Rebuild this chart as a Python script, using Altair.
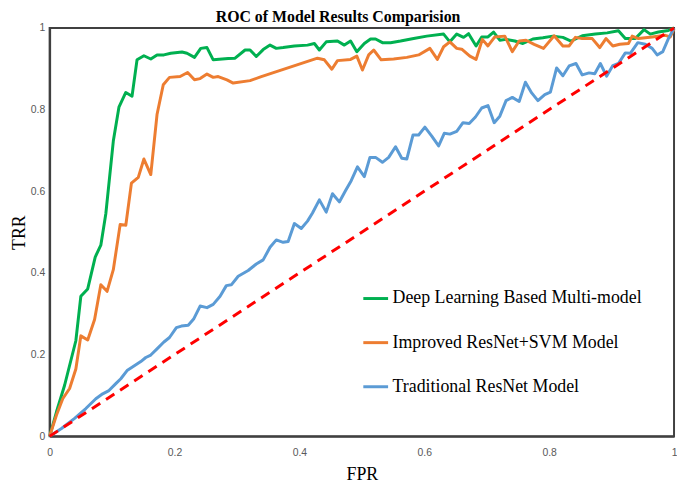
import altair as alt
import pandas as pd

# ---- data ----
series_names = ["Deep Learning Based Multi-model", "Improved ResNet+SVM Model", "Traditional ResNet Model"]
series_colors = ["#00B050", "#ED7D31", "#5B9BD5"]

g_fpr = [0, .011, .024, .042, .050, .061, .073, .082, .090, .102,
         .111, .122, .132, .140, .151, .162, .172, .183, .194, .212,
         .220, .232, .242, .252, .262, .286, .297, .313, .321, .331,
         .342, .353, .363, .374, .392, .413, .424, .432, .443, .461,
         .472, .482, .492, .504, .514, .522, .533, .546, .562, .583,
         .604, .631, .641, .652, .663, .671, .683, .692, .702, .711,
         .721, .731, .745, .758, .774, .790, .806, .822, .835, .853,
         .874, .893, .911, .922, .938, .952, .962, .975, .991, 1.0]
g_trr = [0, .060, .125, .234, .343, .361, .439, .468, .545, .723,
         .806, .842, .833, .922, .932, .924, .934, .934, .938, .941,
         .938, .928, .950, .952, .922, .925, .926, .946, .946, .930,
         .947, .958, .950, .952, .956, .958, .962, .946, .966, .968,
         .958, .968, .942, .962, .973, .973, .964, .964, .968, .974,
         .980, .985, .966, .985, .977, .986, .956, .978, .978, .990,
         .970, .972, .968, .962, .973, .976, .980, .977, .968, .981,
         .985, .988, .993, .974, .974, .996, .985, .990, .994, 1.0]

o_fpr = [0, .011, .021, .032, .042, .050, .061, .072, .082, .092,
         .102, .113, .122, .131, .142, .151, .162, .172, .182, .192,
         .209, .221, .232, .241, .252, .262, .270, .284, .294, .321,
         .339, .429, .440, .452, .461, .482, .492, .501, .511, .519,
         .531, .551, .572, .591, .609, .621, .631, .641, .652, .660,
         .673, .683, .693, .702, .713, .729, .741, .752, .763, .776,
         .791, .808, .822, .832, .842, .853, .869, .881, .891, .902,
         .913, .927, .933, .943, .965, .986, .994, 1.0]
o_trr = [0, .052, .092, .117, .165, .246, .236, .286, .371, .355,
         .408, .519, .517, .620, .634, .679, .641, .788, .861, .879,
         .881, .891, .873, .876, .887, .879, .881, .873, .865, .871,
         .881, .926, .922, .899, .920, .923, .931, .897, .934, .946,
         .922, .924, .928, .934, .950, .923, .954, .966, .950, .948,
         .931, .923, .972, .956, .978, .980, .942, .968, .970, .960,
         .950, .981, .956, .956, .977, .974, .974, .952, .974, .956,
         .960, .962, .980, .974, .978, .982, .978, .998]

b_fpr = [0, .019, .040, .058, .074, .085, .095, .106, .114, .124,
         .132, .146, .154, .162, .172, .183, .192, .203, .211, .222,
         .231, .241, .252, .262, .273, .283, .291, .302, .318, .331,
         .342, .353, .363, .374, .382, .392, .403, .413, .421, .432,
         .443, .453, .464, .474, .483, .493, .504, .513, .522, .533,
         .543, .554, .564, .572, .582, .591, .601, .612, .623, .632,
         .641, .652, .662, .672, .682, .692, .702, .712, .721, .731,
         .741, .752, .762, .772, .782, .793, .802, .812, .822, .832,
         .843, .853, .864, .873, .882, .892, .902, .911, .922, .930,
         .942, .954, .965, .973, .982, .991, 1.0]
b_trr = [0, .019, .044, .068, .092, .104, .112, .129, .141, .161,
         .169, .183, .193, .199, .214, .231, .242, .266, .270, .272,
         .288, .319, .315, .323, .343, .369, .371, .392, .406, .422,
         .432, .463, .481, .475, .477, .521, .509, .527, .547, .579,
         .549, .594, .574, .602, .626, .660, .636, .683, .683, .671,
         .683, .709, .681, .679, .738, .738, .757, .735, .711, .742,
         .740, .747, .768, .766, .782, .804, .810, .768, .784, .822,
         .830, .820, .867, .841, .822, .837, .843, .902, .883, .907,
         .913, .885, .890, .888, .913, .882, .908, .913, .939, .938,
         .964, .960, .950, .934, .942, .974, 1.0]

diag_fpr = [0, 1]
diag_trr = [0, 1]

x_ticks = [0, 0.2, 0.4, 0.6, 0.8, 1]
y_ticks = [0, 0.2, 0.4, 0.6, 0.8, 1]

# ---- build tables ----
rows = []
for name, fx, ty in zip(series_names, [g_fpr, o_fpr, b_fpr], [g_trr, o_trr, b_trr]):
    for i, (a, b) in enumerate(zip(fx, ty)):
        rows.append({"model": name, "FPR": a, "TRR": b, "order": i})
df = pd.DataFrame(rows)
diag = pd.DataFrame({"FPR": diag_fpr, "TRR": diag_trr})

x_enc = alt.X("FPR:Q", scale=alt.Scale(domain=[0, 1], nice=False),
              axis=alt.Axis(title="FPR", values=x_ticks, format="~g",
                            labelPadding=11, titlePadding=8))
y_enc = alt.Y("TRR:Q", scale=alt.Scale(domain=[0, 1], nice=False),
              axis=alt.Axis(title="TRR", values=y_ticks, format="~g",
                            labelPadding=5, titlePadding=2))

lines = alt.Chart(df).mark_line(strokeWidth=3, strokeJoin="round").encode(
    x=x_enc,
    y=y_enc,
    order="order:Q",
    color=alt.Color("model:N",
                    scale=alt.Scale(domain=series_names, range=series_colors),
                    sort=series_names,
                    legend=alt.Legend(title=None, orient="none", legendX=315, legendY=259,
                                      symbolType="stroke", symbolSize=625, symbolStrokeWidth=3,
                                      labelFont="Liberation Serif", labelFontSize=18,
                                      labelColor="#000000", labelLimit=400, labelOffset=3,
                                      rowPadding=21.5, padding=0)),
)

diag_line = alt.Chart(diag).mark_line(color="#FF0000", strokeWidth=3, strokeDash=[10, 7]).encode(
    x="FPR:Q", y="TRR:Q"
)

chart = alt.layer(lines, diag_line).properties(
    width=630,
    height=412,
    padding={"left": 42, "top": 18, "right": 3, "bottom": 48},
    autosize=alt.AutoSizeParams(type="none"),
    title=alt.TitleParams("ROC of Model Results Comparision", font="Liberation Serif",
                          fontSize=16, fontWeight="bold", color="#000000",
                          anchor="middle", dx=-24, offset=-3),
).configure_view(
    stroke="#404040", strokeWidth=2
).configure_axis(
    grid=False, ticks=False, labelFlush=False,
    domainColor="#404040", domainWidth=2,
    labelFont="Liberation Sans", labelFontSize=10.5, labelColor="#595959",
    titleFont="Liberation Serif", titleFontSize=18, titleFontWeight="normal", titleColor="#000000",
)

chart.save("out.html", embed_options={"renderer": "svg", "actions": False})
